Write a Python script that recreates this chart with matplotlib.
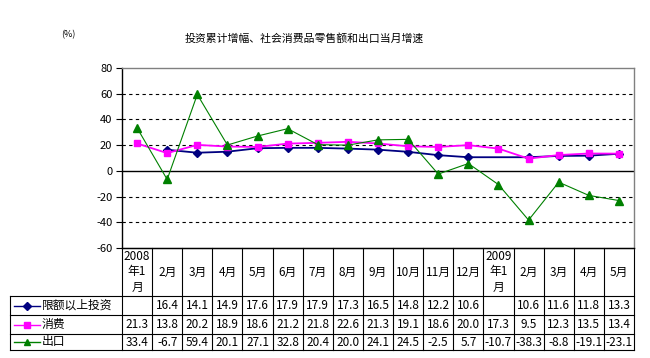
import numpy as np
import matplotlib
matplotlib.use("Agg")
import matplotlib.pyplot as plt

plt.rcParams['font.family'] = ['Noto Sans CJK SC', 'DejaVu Sans']
plt.rcParams['axes.unicode_minus'] = False

months = ['2008\n年1\n月', '2月', '3月', '4月', '5月', '6月', '7月', '8月', '9月',
          '10月', '11月', '12月', '2009\n年1\n月', '2月', '3月', '4月', '5月']
invest = [None, 16.4, 14.1, 14.9, 17.6, 17.9, 17.9, 17.3, 16.5, 14.8, 12.2, 10.6,
          None, 10.6, 11.6, 11.8, 13.3]
consume = [21.3, 13.8, 20.2, 18.9, 18.6, 21.2, 21.8, 22.6, 21.3, 19.1, 18.6, 20.0,
           17.3, 9.5, 12.3, 13.5, 13.4]
export = [33.4, -6.7, 59.4, 20.1, 27.1, 32.8, 20.4, 20.0, 24.1, 24.5, -2.5, 5.7,
          -10.7, -38.3, -8.8, -19.1, -23.1]
names = ['限额以上投资', '消费', '出口']
yticks = [-60, -40, -20, 0, 20, 40, 60, 80]

W, H = 650, 358
fig = plt.figure(figsize=(W / 100, H / 100), dpi=100)
ax = fig.add_axes([122 / W, (H - 248) / H, (634 - 122) / W, (248 - 68) / H])

n = len(months)
x = np.arange(n)

# values, colour, marker, marker size, line width
series = [
    (invest, '#000080', 'D', 4.5, 1.3),
    (consume, '#FF00FF', 's', 5, 1.3),
    (export, '#008000', '^', 5.5, 0.8),
]
for vals, col, mk, ms, lw in series:
    xs = [i for i, v in enumerate(vals) if v is not None]
    ys = [v for v in vals if v is not None]
    ax.plot(xs, ys, color=col, lw=lw, marker=mk, ms=ms, mec=col, mfc=col, zorder=3)

ax.set_xlim(-0.5, n - 0.5)
ax.set_ylim(-60, 80)
ax.set_yticks(yticks)
ax.set_yticklabels([str(t) for t in yticks], fontsize=8)
ax.tick_params(axis='y', length=4, width=0.8, direction='out', pad=3)
ax.set_xticks([])
for t in [-40, -20, 20, 40, 60]:
    ax.axhline(t, color='black', lw=0.8, ls=(0, (3, 3)), zorder=1)
ax.axhline(0, color='black', lw=1, zorder=1)

ax.spines['left'].set_color('black')
ax.spines['top'].set_color('#808080')
ax.spines['right'].set_color('#808080')
ax.spines['bottom'].set_color('black')
for s in ax.spines.values():
    s.set_linewidth(1)

# data table under the plot
tr = ax.get_xaxis_transform()
px = (n) / (634 - 122)          # data units per pixel
left = -0.5 - (122 - 10) * px
rows = [-(296 - 248) / 180, -(315 - 248) / 180, -(334 - 248) / 180, -(350 - 248) / 180]
lk = dict(transform=tr, clip_on=False, color='black', lw=0.8)

ax.plot([-0.5, n - 0.5], [0, 0], **lk)
for y in rows:
    ax.plot([left, n - 0.5], [y, y], **lk)
for i in range(n + 1):
    ax.plot([i - 0.5, i - 0.5], [0, rows[-1]], **lk)
ax.plot([left, left], [rows[0], rows[-1]], **lk)

for i, m in enumerate(months):
    ax.text(i, rows[0] / 2, m, transform=tr, ha='center', va='center',
            fontsize=8.5, linespacing=1.25)

for r, (vals, col, mk, ms, lw) in enumerate(series):
    yc = (rows[r] + rows[r + 1]) / 2
    for i, v in enumerate(vals):
        if v is None:
            continue
        ax.text(i, yc, '%.1f' % v, transform=tr, ha='center', va='center',
                fontsize=8.5)
    x0 = left + 4 * px
    x1 = left + 30 * px
    ax.plot([x0, x1], [yc, yc], transform=tr, clip_on=False, color=col, lw=1)
    ax.plot([(x0 + x1) / 2], [yc], transform=tr, clip_on=False, color=col,
            marker=mk, ms=ms - 0.5, ls='none')
    ax.text(left + 32 * px, yc, names[r], transform=tr, ha='left', va='center',
            fontsize=8.5)

fig.text(304 / W, 1 - 38 / H, '投资累计增幅、社会消费品零售额和出口当月增速',
         ha='center', va='center', fontsize=7.8)
fig.text(68 / W, 1 - 35 / H, '(%)', ha='center', va='center', fontsize=6.5)

fig.savefig('out.png', dpi=100)
